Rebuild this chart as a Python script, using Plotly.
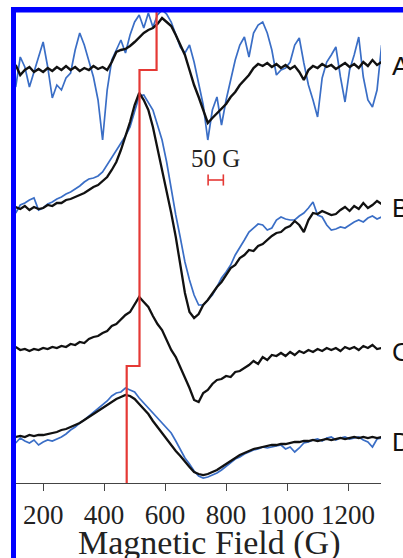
import plotly.graph_objects as go

# ---------------- data ----------------
FIELD = [110, 125, 140, 155, 170, 185, 200, 215, 230, 245,
         260, 275, 290, 305, 320, 335, 350, 365, 380, 395,
         410, 425, 440, 455, 470, 485, 500, 515, 530, 545,
         560, 575, 590, 605, 620, 635, 650, 665, 680, 695,
         710, 725, 740, 755, 770, 785, 800, 815, 830, 845,
         860, 875, 890, 905, 920, 935, 950, 965, 980, 995,
         1010, 1025, 1040, 1055, 1070, 1085, 1100, 1115, 1130, 1145,
         1160, 1175, 1190, 1205, 1220, 1235, 1250, 1265, 1280, 1295, 1310]

A_BLACK = [5, -5, 0, 3, -2, 1, -2, 2, -1, 3,
           0, 4, 0, 3, -1, 2, 0, 4, 1, 3,
           0, 8, 18, 20, 21, 24, 28, 33, 37, 40,
           42, 46, 52, 48, 44, 35, 25, 15, 0, -15,
           -27, -40, -53, -48, -43, -38, -34, -27, -22, -15,
           -10, -5, 2, 6, 4, 7, 3, 6, 2, 5,
           1, 4, -2, -10, 0, 4, 2, 6, 3, 5,
           1, 4, 7, 3, 6, 2, 8, 4, 10, 5, 8]

A_BLUE = [-17, 13, 3, -17, -2, 12, 28, 3, -28, -15,
          -20, -8, -3, 20, 37, 25, 10, -7, -30, -70,
          -20, 10, 20, 30, 17, 35, 48, 55, 42, 57,
          43, 55, 60, 56, 48, 35, 23, 17, 25, 8,
          -15, -35, -70, -40, -27, -55, -30, -10, 10, 25,
          33, 13, 37, 45, 48, 37, 20, -5, 0, 2,
          8, 25, 32, 7, -15, -30, -47, -8, 8, 15,
          23, -7, -32, 0, 15, 33, -7, -30, -37, -20, 25]

B_BLACK = [0, -2, 1, -3, 0, -2, -1, 2, 1, 4,
           4, 7, 8, 10, 12, 14, 17, 20, 22, 26,
           30, 37, 45, 57, 70, 85, 102, 114, 107, 97,
           80, 59, 39, 17, -6, -30, -58, -86, -105, -111,
           -107, -98, -93, -86, -80, -75, -68, -61, -58, -51,
           -48, -43, -44, -39, -37, -33, -29, -26, -25, -21,
           -19, -14, -18, -25, -13, -6, -7, -4, -6, -8,
           -7, -3, 0, -4, 1, -2, 4, -1, 2, 6, 3]

B_BLUE = [-6, 2, 4, 7, 9, -3, -1, 3, 5, 8,
          10, 13, 15, 18, 21, 25, 28, 29, 31, 35,
          42, 50, 57, 63, 71, 80, 95, 111, 112, 105,
          97, 82, 67, 45, 17, -8, -31, -55, -73, -88,
          -98, -98, -93, -88, -80, -71, -65, -58, -48, -41,
          -33, -25, -21, -17, -18, -23, -21, -13, -10, -12,
          -13, -13, -9, -6, -1, 5, -8, -10, -18, -23,
          -22, -20, -21, -18, -15, -13, -15, -11, -9, -12, -10]

C_BLACK = [1, -2, -1, -3, -1, -2, 0, -1, 1, 0,
           2, 1, 4, 3, 6, 5, 9, 11, 12, 15,
           17, 22, 24, 29, 33, 36, 43, 51, 46, 41,
           32, 24, 18, 8, -2, -9, -19, -29, -40, -52,
           -54, -45, -42, -36, -32, -31, -28, -29, -24, -23,
           -20, -17, -13, -16, -9, -12, -7, -8, -5, -8,
           -4, -7, -3, -5, -2, -4, -1, -3, 0, -2,
           0, -3, 1, -1, 1, -2, 2, 0, 3, -1, 0]

D_BLACK = [0, 1, 0, 2, 1, 2, 2, 3, 4, 5,
           7, 8, 10, 12, 14, 17, 20, 23, 26, 29,
           32, 35, 38, 40, 42, 41, 38, 33, 28, 23,
           16, 10, 4, -3, -8, -14, -19, -25, -30, -35,
           -37, -38, -37, -35, -33, -30, -27, -24, -21, -18,
           -16, -14, -12, -11, -10, -9, -8, -8, -7, -7,
           -6, -5, -5, -4, -4, -3, -4, -3, -2, -3,
           -2, -1, -2, -1, 0, -1, 0, -1, 0, -1, 0]

D_BLUE = [-6, -1, -4, -6, -3, -8, -5, -3, -4, -2,
          0, 3, 7, 10, 14, 17, 21, 24, 28, 32,
          36, 41, 44, 45, 49, 47, 45, 39, 34, 29,
          24, 19, 14, 10, 4, -4, -13, -21, -27, -34,
          -39, -41, -40, -38, -36, -33, -29, -26, -22, -20,
          -17, -15, -13, -12, -10, -11, -10, -9, -8, -12,
          -10, -15, -11, -6, -5, -3, -2, -4, -1, 0,
          -3, -1, 0, -2, -1, 0, -3, -5, -10, -2, -1]

RED_FIELDS = [474, 516, 572]          # g-marker fields (G)
SCALE_BAR_G = [741, 791]              # 50 G scale bar
TICKS = [200, 400, 600, 800, 1000, 1200]
TRACE_LABELS = ["A", "B", "C", "D"]
X_TITLE = "Magnetic Field (G)"
SCALE_TEXT = "50 G"

# ---------------- layout / style ----------------
OFFSETS = {"A": 413, "B": 276, "C": 135, "D": 46}
RED_STEPS = [0, 117, 413, 480]
BLACK = "#111111"
BLUE = "#3A6EC6"
RED = "#E53935"

fig = go.Figure()

def add(vals, off, color, width):
    fig.add_trace(go.Scatter(x=FIELD, y=[v + off for v in vals], mode="lines",
                             line=dict(color=color, width=width), hoverinfo="skip"))

add(A_BLUE, OFFSETS["A"], BLUE, 1.7)
add(A_BLACK, OFFSETS["A"], BLACK, 2.4)
add(B_BLUE, OFFSETS["B"], BLUE, 1.7)
add(B_BLACK, OFFSETS["B"], BLACK, 2.3)
add(C_BLACK, OFFSETS["C"], BLACK, 2.3)
add(D_BLUE, OFFSETS["D"], BLUE, 1.7)
add(D_BLACK, OFFSETS["D"], BLACK, 2.3)

red_x = [RED_FIELDS[0], RED_FIELDS[1], RED_FIELDS[2], RED_FIELDS[2]]
fig.add_trace(go.Scatter(x=red_x, y=RED_STEPS, mode="lines", line_shape="vh",
                         line=dict(color=RED, width=2.2), hoverinfo="skip"))

fig.add_trace(go.Scatter(x=SCALE_BAR_G, y=[303, 303], mode="lines+markers",
                         line=dict(color=RED, width=1.6),
                         marker=dict(symbol="line-ns", size=8,
                                     line=dict(color=RED, width=1.6)),
                         hoverinfo="skip"))

annotations = []
label_y = {"A": 417, "B": 275, "C": 131, "D": 41}
for lab in TRACE_LABELS:
    annotations.append(dict(text=lab, xref="paper", x=1.0247, xanchor="left",
                            yref="y", y=label_y[lab], yanchor="middle", showarrow=False,
                            font=dict(family="Liberation Sans", size=26, color=BLACK)))
annotations.append(dict(text=SCALE_TEXT, xref="x", x=(SCALE_BAR_G[0] + SCALE_BAR_G[1]) / 2,
                        yref="y", y=325, showarrow=False,
                        font=dict(family="Liberation Serif", size=25, color="#222")))
annotations.append(dict(text=X_TITLE, xref="paper", x=0.531, yref="paper", y=-0.128,
                        yanchor="middle", showarrow=False,
                        font=dict(family="Liberation Serif", size=34, color="#222")))

shapes = [
    dict(type="rect", xref="paper", yref="paper", x0=-0.0137, x1=0.0, y0=-0.17, y1=1.0106,
         fillcolor="#0000FF", line=dict(width=0), layer="above"),
    dict(type="rect", xref="paper", yref="paper", x0=-0.0137, x1=1.07, y0=0.999, y1=1.0106,
         fillcolor="#0000FF", line=dict(width=0), layer="above"),
]

fig.update_layout(
    width=403, height=558,
    margin=dict(l=16, r=22, t=12, b=75),
    paper_bgcolor="white", plot_bgcolor="white",
    showlegend=False,
    annotations=annotations, shapes=shapes,
    xaxis=dict(range=[111, 1308], tickvals=TICKS, ticktext=[str(t) for t in TICKS],
               ticks="outside", ticklen=7, tickwidth=1.2, tickcolor="#444",
               showline=True, linecolor="#444", linewidth=1.2,
               showgrid=False, zeroline=False, ticklabelstandoff=0,
               tickfont=dict(family="Liberation Serif", size=27, color="#222")),
    yaxis=dict(range=[0, 471], visible=False, showgrid=False, zeroline=False),
)

fig.write_html("out.html", config={"displayModeBar": False})
